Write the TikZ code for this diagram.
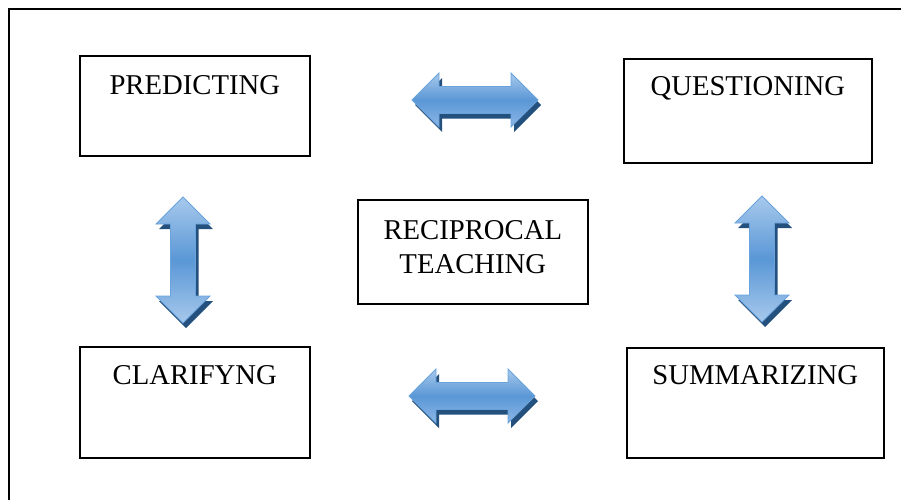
\documentclass[tikz,border=0pt]{standalone}
\usepackage{fontspec}
\setmainfont{Liberation Serif}

\definecolor{arrowedge}{HTML}{6AA3DC}
\definecolor{arrowtop}{HTML}{A7C9EC}
\definecolor{arrowmid}{HTML}{5A97D6}
\definecolor{arrowbottom}{HTML}{8DB7E6}
\definecolor{arrowshadow}{HTML}{24507E}

\tikzset{
  box/.style={draw=black, line width=1.6pt, inner sep=0pt, anchor=north west,
    font=\fontsize{28.7}{34}\selectfont},
  % horizontal double block arrow, 126 long, centred on the pic origin
  pics/hdarrow/.style={code={
    \begin{scope}[shift={(3,5)}]
      \fill[arrowshadow] (-63,0) -- (-36,-27) -- (-36,-13.5) -- (36,-13.5) -- (36,-27)
        -- (63,0) -- (36,27) -- (36,13.5) -- (-36,13.5) -- (-36,27) -- cycle;
    \end{scope}
    \shade[draw=arrowedge, line width=0.8pt, top color=arrowtop, bottom color=arrowbottom,
      middle color=arrowmid]
      (-63,0) -- (-36,-27) -- (-36,-13.5) -- (36,-13.5) -- (36,-27)
      -- (63,0) -- (36,27) -- (36,13.5) -- (-36,13.5) -- (-36,27) -- cycle;
  }},
  % vertical double block arrow, 126 long
  pics/vdarrow/.style={code={
    \begin{scope}[shift={(3,5)}]
      \fill[arrowshadow] (0,-63) -- (27,-36) -- (12.5,-36) -- (12.5,36) -- (27,36)
        -- (0,63) -- (-27,36) -- (-12.5,36) -- (-12.5,-36) -- (-27,-36) -- cycle;
    \end{scope}
    \shade[draw=arrowedge, line width=0.8pt, top color=arrowtop, bottom color=arrowtop,
      middle color=arrowmid]
      (0,-63) -- (27,-36) -- (12.5,-36) -- (12.5,36) -- (27,36)
      -- (0,63) -- (-27,36) -- (-12.5,36) -- (-12.5,-36) -- (-27,-36) -- cycle;
  }}
}

\begin{document}
\begin{tikzpicture}[x=1pt,y=-1pt]
\useasboundingbox (0,0) rectangle (901,499);

% outer frame (runs past the right and bottom edges)
\draw[line width=2pt] (9,520) -- (9,9) -- (920,9);

% the five boxes
\node[box, minimum width=230pt, text height=39pt, text depth=61pt] (pred) at (79,55) {PREDICTING};
\node[box, minimum width=248pt, text height=37pt, text depth=67pt] (ques) at (623,58) {QUESTIONING};
\node[box, minimum width=230pt, text height=40pt, text depth=64pt] (recip) at (357,199)
  {\begin{tabular}[t]{@{}c@{}}RECIPROCAL\\TEACHING\end{tabular}};
\node[box, minimum width=230pt, text height=38pt, text depth=73pt] (clar) at (79,346) {CLARIFYNG};
\node[box, minimum width=257pt, text height=37pt, text depth=73pt] (summ) at (626,347) {SUMMARIZING};

% block arrows between the boxes
\pic (pq) at (475,100) {hdarrow};
\pic (cs) at (472,396) {hdarrow};
\pic (pc) at (183,260) {vdarrow};
\pic (qs) at (762,259) {vdarrow};
\end{tikzpicture}
\end{document}
